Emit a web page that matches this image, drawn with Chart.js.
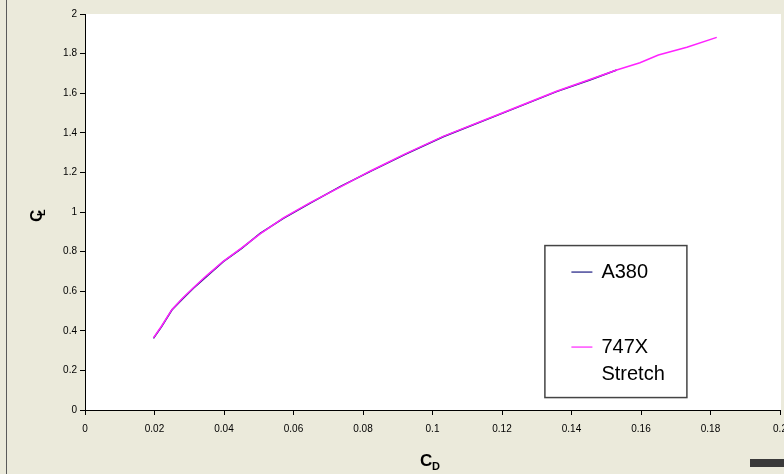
<!DOCTYPE html>
<html>
<head>
<meta charset="utf-8">
<script src="https://cdn.jsdelivr.net/npm/chart.js@4/dist/chart.umd.min.js"></script>
<style>
  html, body { margin: 0; padding: 0; }
  body { width: 784px; height: 474px; overflow: hidden; position: relative;
         background: #ebeadb; font-family: "Liberation Sans", Arial, sans-serif; }
  #wrap { position: absolute; left: 0; top: 0; width: 784px; height: 474px; }
  .edge { position: absolute; left: 6px; top: 0; width: 1px; height: 474px; background: #5a5a5a; }
  .bar  { position: absolute; left: 750px; top: 459px; width: 34px; height: 8px; background: #3a3a3a; }
</style>
</head>
<body>
<div class="edge"></div>
<div id="wrap"><canvas id="c" width="784" height="474"></canvas></div>
<div class="bar"></div>
<script>
// CD / CL drag polar
const a380_cd = [0.0197, 0.022, 0.025, 0.028, 0.0312, 0.035, 0.0398, 0.045, 0.0504, 0.0571, 0.0647, 0.0734, 0.082, 0.092, 0.1031, 0.1213, 0.1357, 0.1453, 0.153];
const a380_cl = [0.362, 0.42, 0.505, 0.56, 0.615, 0.675, 0.749, 0.815, 0.892, 0.968, 1.044, 1.128, 1.204, 1.29, 1.38, 1.507, 1.608, 1.667, 1.717];
const x747_cd = [0.0197, 0.022, 0.025, 0.028, 0.0312, 0.035, 0.0398, 0.045, 0.0504, 0.0571, 0.0647, 0.0734, 0.082, 0.092, 0.1031, 0.1213, 0.1357, 0.1453, 0.153, 0.1597, 0.165, 0.1732, 0.1818];
const x747_cl = [0.364, 0.423, 0.507, 0.563, 0.617, 0.679, 0.751, 0.818, 0.89, 0.97, 1.046, 1.126, 1.206, 1.292, 1.382, 1.509, 1.61, 1.669, 1.717, 1.754, 1.793, 1.832, 1.882];
const seriesNames = ['A380', '747X'];
const seriesColors = ['#1a1a80', '#ff22ff'];

const pts = (xs, ys) => xs.map((x, i) => ({ x, y: ys[i] }));

const FONT = '"Liberation Sans", Arial, sans-serif';

// white plot area
const plotBg = {
  id: 'plotBg',
  beforeDraw(chart) {
    const { ctx, chartArea: a } = chart;
    ctx.save();
    ctx.fillStyle = '#ffffff';
    ctx.fillRect(a.left, a.top, a.right - a.left + 1, a.bottom - a.top);
    ctx.restore();
  }
};

// axis titles with subscripts + boxed legend inside the plot
const extras = {
  id: 'extras',
  afterDraw(chart) {
    const { ctx } = chart;
    ctx.save();
    ctx.fillStyle = '#000';
    ctx.textBaseline = 'alphabetic';
    // x title
    ctx.font = 'bold 17px ' + FONT;
    ctx.fillText('C', 420, 466);
    ctx.font = 'bold 11px ' + FONT;
    ctx.fillText('D', 432, 470);
    // y title (rotated)
    ctx.translate(42, 222);
    ctx.rotate(-Math.PI / 2);
    ctx.font = 'bold 17px ' + FONT;
    ctx.fillText('C', 0, 0);
    ctx.font = 'bold 11px ' + FONT;
    ctx.fillText('L', 6, 3);
    ctx.restore();

    // legend box
    const x = chart.scales.x, y = chart.scales.y;
    const bx = x.getPixelForValue(0.1322), by = y.getPixelForValue(0.833);
    const bw = 142, bh = 152;
    ctx.save();
    ctx.fillStyle = '#ffffff';
    ctx.fillRect(bx, by, bw, bh);
    ctx.strokeStyle = '#444';
    ctx.lineWidth = 1.5;
    ctx.strokeRect(bx + 0.5, by + 0.5, bw, bh);
    const rows = [
      { y: by + 27, lines: ['A380'], c: seriesColors[0] },
      { y: by + 102, lines: ['747X', 'Stretch'], c: seriesColors[1] }
    ];
    ctx.font = '20px ' + FONT;
    ctx.textBaseline = 'middle';
    rows.forEach(r => {
      ctx.strokeStyle = r.c;
      ctx.lineWidth = 1.2;
      ctx.beginPath();
      ctx.moveTo(bx + 27, r.y);
      ctx.lineTo(bx + 48, r.y);
      ctx.stroke();
      ctx.fillStyle = '#000';
      r.lines.forEach((t, k) => ctx.fillText(t, bx + 57, r.y + k * 27));
    });
    ctx.restore();
  }
};

new Chart(document.getElementById('c'), {
  type: 'scatter',
  data: {
    datasets: [
      { label: seriesNames[0], data: pts(a380_cd, a380_cl), showLine: true, borderColor: seriesColors[0],
        borderWidth: 1.5, pointRadius: 0, tension: 0, order: 1 },
      { label: seriesNames[1], data: pts(x747_cd, x747_cl), showLine: true, borderColor: seriesColors[1],
        borderWidth: 1.5, pointRadius: 0, tension: 0, order: 0 }
    ]
  },
  options: {
    responsive: false,
    animation: false,
    layout: { padding: { left: 0, top: 14, right: 4, bottom: 0 } },
    plugins: { legend: { display: false }, tooltip: { enabled: false } },
    scales: {
      x: {
        type: 'linear', min: 0, max: 0.2,
        afterFit(s) { s.height = 64; s.paddingLeft = 0; s.paddingRight = 0; },
        afterBuildTicks(s) { s.ticks = [0,0.02,0.04,0.06,0.08,0.1,0.12,0.14,0.16,0.18,0.2].map(v => ({ value: v })); },
        border: { color: '#000', width: 1 },
        grid: { drawOnChartArea: false, color: '#000', tickLength: 5 },
        ticks: { color: '#000', font: { size: 10, family: FONT }, padding: 8, maxRotation: 0,
                 callback: v => String(+v.toFixed(2)) }
      },
      y: {
        type: 'linear', min: 0, max: 2,
        afterFit(s) { s.width = 85; s.paddingTop = 0; s.paddingBottom = 0; },
        border: { color: '#000', width: 1 },
        grid: { drawOnChartArea: false, color: '#000', tickLength: 5 },
        ticks: { stepSize: 0.2, color: '#000', font: { size: 10, family: FONT }, padding: 3,
                 callback: v => String(+v.toFixed(1)) }
      }
    }
  },
  plugins: [plotBg, extras]
});
</script>
</body>
</html>
